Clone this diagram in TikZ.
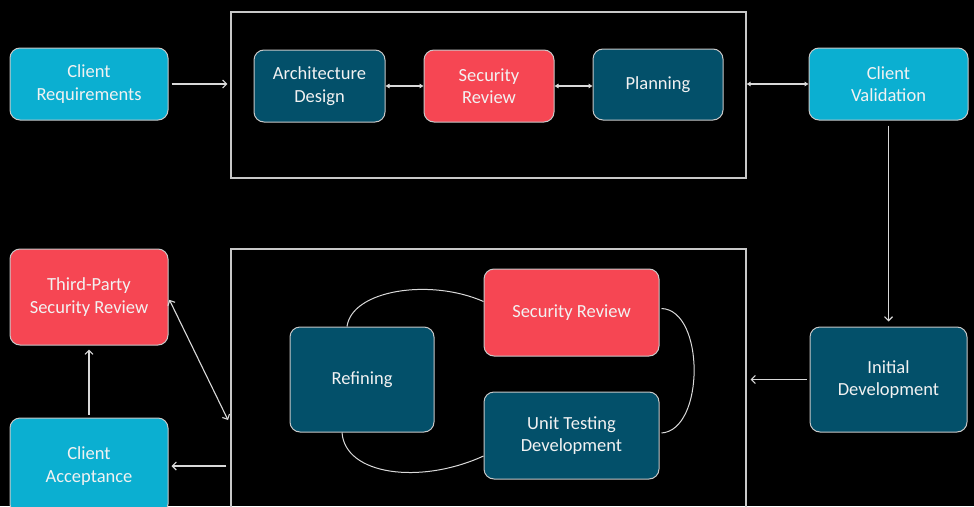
\documentclass[tikz,border=0pt]{standalone}
\usepackage{fontspec}
\setmainfont{Carlito}
\usetikzlibrary{arrows.meta}
\definecolor{cyanbox}{HTML}{0BAFD1}
\definecolor{tealbox}{HTML}{03506A}
\definecolor{redbox}{HTML}{F64653}
\definecolor{edgegray}{HTML}{C8C8C8}
\definecolor{linegray}{HTML}{D9D9D9}
\definecolor{txt}{HTML}{F2F2F2}
\tikzset{
  x=1pt, y=-1pt,
  box/.style={rounded corners=10pt, draw=edgegray, line width=1pt, text=txt,
    align=center, inner sep=0pt, font=\fontsize{18.5}{22.5}\selectfont},
  cbox/.style={box, fill=cyanbox},
  tbox/.style={box, fill=tealbox},
  rbox/.style={box, fill=redbox},
  container/.style={draw=edgegray, line width=1.3pt, inner sep=0pt},
  conn/.style={draw=linegray, line width=1.1pt},
  open/.style={conn, -{Straight Barb[length=4pt,width=8pt]}},
  openboth/.style={conn, {Straight Barb[length=4pt,width=8pt]}-{Straight Barb[length=4pt,width=8pt]}},
  tri/.style={conn, {Triangle[length=4pt,width=4.5pt]}-{Triangle[length=4pt,width=4.5pt]}},
  curve/.style={draw=linegray, line width=1pt},
}
\begin{document}
\begin{tikzpicture}
\fill[black] (0,0) rectangle (974,506);
\useasboundingbox (0,0) rectangle (974,506);
\clip (0,0) rectangle (974,506);
% containers
\node[container, minimum width=515pt, minimum height=166pt] (top) at (488.5,95) {};
\node[container, minimum width=515pt, minimum height=311pt] (bot) at (488.5,404.5) {};
% top row
\node[cbox, minimum width=158pt, minimum height=72pt] (creq) at (89,84) {Client\\Requirements};
\node[tbox, minimum width=131pt, minimum height=72pt] (arch) at (319.5,86) {Architecture\\Design};
\node[rbox, minimum width=130pt, minimum height=72pt] (srev) at (489,86) {Security\\Review};
\node[tbox, minimum width=130pt, minimum height=71pt] (plan) at (658,84.5) {Planning};
\node[cbox, minimum width=159pt, minimum height=72pt] (cval) at (888.5,84) {Client\\Validation};
% right / left
\node[tbox, minimum width=157pt, minimum height=105pt] (idev) at (888.5,379.5) {Initial\\Development};
\node[rbox, minimum width=158pt, minimum height=96pt] (tp) at (89,297) {Third-Party\\Security Review};
\node[cbox, minimum width=158pt, minimum height=96pt] (cacc) at (89,466) {Client\\Acceptance};
% inner loop
\node[tbox, minimum width=144pt, minimum height=105pt] (ref) at (362,379.5) {Refining};
\node[rbox, minimum width=175pt, minimum height=87pt] (srev2) at (571.5,312.5) {Security Review};
\node[tbox, minimum width=175pt, minimum height=87pt] (utd) at (571.5,435.5) {Unit Testing\\Development};
% connectors
\draw[open, shorten <=3pt, shorten >=3pt] (creq) -- (creq -| top.west);
\draw[tri] (arch.east) -- (srev.west);
\draw[tri] (srev.east) -- (srev.east -| plan.west);
\draw[tri] (cval.west -| top.east) -- (cval.west);
\draw[open, shorten <=5pt, shorten >=5pt] (cval.south) -- (idev.north);
\draw[open, shorten <=3pt, shorten >=4pt] (idev.west) -- (idev.west -| bot.east);
\coordinate (bl) at (228,420);
\draw[openboth, shorten <=2pt] ([yshift=-1pt]tp.east) -- (bl);
\draw[open, shorten <=4pt, shorten >=3pt] (cacc -| bot.west) -- (cacc.east);
\draw[open, shorten <=3pt, shorten >=4pt] (cacc.north) -- (tp.south);
% loop curves
\draw[curve] ([xshift=-15pt]ref.north) .. controls (352,290) and (430,278) .. ([yshift=11pt]srev2.west);
\draw[curve] ([yshift=4pt, xshift=2pt]srev2.east) .. controls (705,310) and (705,430) .. ([yshift=2.5pt, xshift=2pt]utd.east);
\draw[curve] ([xshift=-20pt]ref.south) .. controls (345,475) and (420,485) .. ([yshift=-20.5pt]utd.west);
\end{tikzpicture}
\end{document}
